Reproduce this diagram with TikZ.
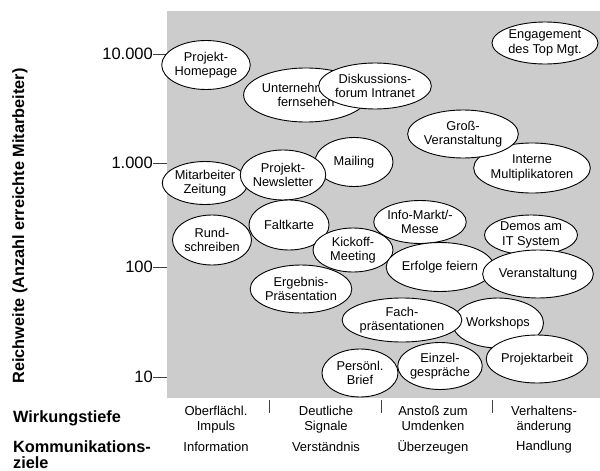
\documentclass[tikz,border=0pt]{standalone}
\usepackage{fontspec}
\setmainfont{Liberation Sans}
\usetikzlibrary{shapes.geometric}
\definecolor{bggray}{RGB}{204,204,204}
\tikzset{
  bub/.style={ellipse, draw=black, line width=0.9pt, fill=white, inner sep=0pt, align=center,
    font=\fontsize{12.8}{14.5}\selectfont},
  ticklab/.style={anchor=east, inner sep=0pt, font=\fontsize{16.5}{18}\selectfont},
  collab/.style={align=center, inner sep=0pt, font=\fontsize{13}{14.5}\selectfont},
  rowlab/.style={anchor=west, align=left, inner sep=0pt, font=\fontsize{16.3}{16}\selectfont\bfseries},
  axline/.style={line width=0.9pt, black!75}
}
\begin{document}
\begin{tikzpicture}[x=1pt,y=-1pt]
\useasboundingbox (0,0) rectangle (600,471);
\fill[bggray] (167,11) rectangle (600,398);
% axis ticks
\foreach \n/\y/\t in {a/54/10.000, b/163/1.000, c/267/100, d/377/10}{
  \coordinate (t\n) at (167,\y);
  \coordinate (s\n) at (153,\y);
  \draw[axline] (s\n) -- (t\n);
  \node[ticklab] (l\n) at (s\n) {\t};
}
\node[rotate=90, inner sep=0pt, font=\fontsize{16.3}{16}\selectfont\bfseries] (ylab) at (20,226) {Reichweite (Anzahl erreichte Mitarbeiter)};
% column separators
\foreach \n/\x in {1/269,2/381,3/492}{
  \coordinate (u\n) at (\x,400);
  \coordinate (v\n) at (\x,413);
  \draw[axline] (u\n) -- (v\n);
}
% bubbles
\node[bub, minimum width=79, minimum height=49] (homepage) at (206,65) {Projekt-\\Homepage};
\node[bub, minimum width=93, minimum height=54] (tv) at (306,95) {\rlap{Unternehm}\phantom{Unternehmens-}\\fernsehen};
\node[bub, minimum width=95, minimum height=46] (forum) at (375,86) {Diskussions-\\forum Intranet};
\node[bub, minimum width=106, minimum height=42] (topmgt) at (545,43) {Engagement\\des Top Mgt.};
\node[bub, minimum width=107, minimum height=50] (multi) at (532,168) {Interne\\Multiplikatoren};
\node[bub, minimum width=89, minimum height=48] (gross) at (463,134) {Groß-\\Veranstaltung};
\node[bub, minimum width=78, minimum height=49] (mailing) at (354,162) {Mailing};
\node[bub, minimum width=78, minimum height=43] (zeitung) at (205,183) {Mitarbeiter\\Zeitung};
\node[bub, minimum width=78, minimum height=50] (newsletter) at (283,175) {Projekt-\\Newsletter};
\node[bub, minimum width=79, minimum height=50] (rund) at (212,240) {Rund-\\schreiben};
\node[bub, minimum width=80, minimum height=50] (falt) at (289,225) {Faltkarte};
\node[bub, minimum width=80, minimum height=44] (kickoff) at (353,250) {Kickoff-\\Meeting};
\node[bub, minimum width=79, minimum height=43] (info) at (420,222) {Info-Markt/-\\Messe};
\node[bub, minimum width=94, minimum height=49] (erfolge) at (440,267) {Erfolge feiern};
\node[bub, minimum width=93, minimum height=40] (demos) at (531,235) {Demos am\\IT System};
\node[bub, minimum width=93, minimum height=48] (veran) at (538,274) {Veranstaltung};
\node[bub, minimum width=92, minimum height=48] (ergebnis) at (301,289) {Ergebnis-\\Präsentation};
\node[bub, minimum width=91, minimum height=50] (workshops) at (498,323) {Workshops};
\node[bub, minimum width=111, minimum height=44] (fach) at (402,320) {Fach-\\präsentationen};
\node[bub, minimum width=90, minimum height=48] (projektarbeit) at (537,359) {Projektarbeit};
\node[bub, minimum width=76, minimum height=48] (brief) at (360,373) {Persönl.\\Brief};
\node[bub, minimum width=80, minimum height=47] (einzel) at (440,366) {Einzel-\\gespräche};
% bottom labels
\node[collab, anchor=north] (c1) at (216,406) {Oberflächl.\\Impuls};
\node[collab, anchor=north] (c2) at (326,406) {Deutliche\\Signale};
\node[collab, anchor=north] (c3) at (433,406) {Anstoß zum\\Umdenken};
\node[collab, anchor=north] (c4) at (544,406) {Verhaltens-\\änderung};
\node[collab] (k1) at (216,447) {Information};
\node[collab] (k2) at (326,447) {Verständnis};
\node[collab] (k3) at (433,447) {Überzeugen};
\node[collab] (k4) at (544,447) {Handlung};
\node[rowlab] (wt) at (13,418) {Wirkungstiefe};
\node[rowlab, anchor=north west] (kz) at (13,440) {Kommunikations-\\ziele};
\end{tikzpicture}
\end{document}
